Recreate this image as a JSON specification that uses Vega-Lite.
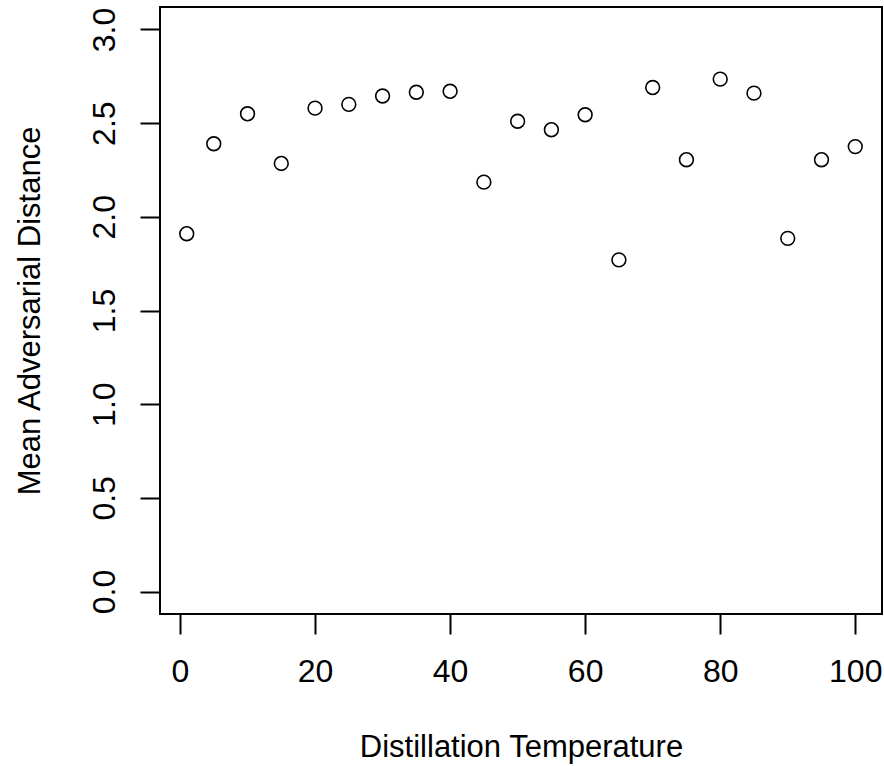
{
  "$schema": "https://vega.github.io/schema/vega-lite/v6.json",
  "autosize": "none",
  "padding": {"left": 160, "top": 7, "right": 2, "bottom": 152},
  "width": 722,
  "height": 607,
  "background": "white",
  "config": {
    "view": {"stroke": "black", "strokeWidth": 2},
    "font": "Liberation Sans",
    "axis": {
      "domain": false,
      "grid": false,
      "ticks": true,
      "tickColor": "black",
      "tickWidth": 2,
      "tickSize": 20,
      "labelFont": "Liberation Sans",
      "labelFontSize": 32,
      "labelColor": "black",
      "titleFont": "Liberation Sans",
      "titleFontSize": 31,
      "titleFontWeight": "normal",
      "titleColor": "black"
    }
  },
  "data": {
    "values": [
      {"temperature": 1, "distance": 1.91},
      {"temperature": 5, "distance": 2.39},
      {"temperature": 10, "distance": 2.55},
      {"temperature": 15, "distance": 2.285},
      {"temperature": 20, "distance": 2.58},
      {"temperature": 25, "distance": 2.60},
      {"temperature": 30, "distance": 2.645},
      {"temperature": 35, "distance": 2.665},
      {"temperature": 40, "distance": 2.67},
      {"temperature": 45, "distance": 2.185},
      {"temperature": 50, "distance": 2.51},
      {"temperature": 55, "distance": 2.465},
      {"temperature": 60, "distance": 2.545},
      {"temperature": 65, "distance": 1.77},
      {"temperature": 70, "distance": 2.69},
      {"temperature": 75, "distance": 2.305},
      {"temperature": 80, "distance": 2.735},
      {"temperature": 85, "distance": 2.66},
      {"temperature": 90, "distance": 1.885},
      {"temperature": 95, "distance": 2.305},
      {"temperature": 100, "distance": 2.375}
    ]
  },
  "mark": {"type": "point", "shape": "circle", "filled": false, "stroke": "black", "strokeWidth": 1.6, "size": 190, "opacity": 1},
  "encoding": {
    "x": {
      "field": "temperature",
      "type": "quantitative",
      "scale": {"domain": [-2.96, 103.96], "nice": false, "zero": false},
      "axis": {
        "title": "Distillation Temperature",
        "values": [0, 20, 40, 60, 80, 100],
        "labelPadding": 22,
        "titlePadding": 45,
        "labelFlush": false,
        "labelOverlap": false
      }
    },
    "y": {
      "field": "distance",
      "type": "quantitative",
      "scale": {"domain": [-0.12, 3.12], "nice": false, "zero": false},
      "axis": {
        "title": "Mean Adversarial Distance",
        "values": [0, 0.5, 1, 1.5, 2, 2.5, 3],
        "format": ".1f",
        "labelAngle": 270,
        "labelAlign": "center",
        "labelBaseline": "bottom",
        "labelPadding": 19,
        "titlePadding": 42,
        "labelFlush": false,
        "labelOverlap": false
      }
    }
  }
}
